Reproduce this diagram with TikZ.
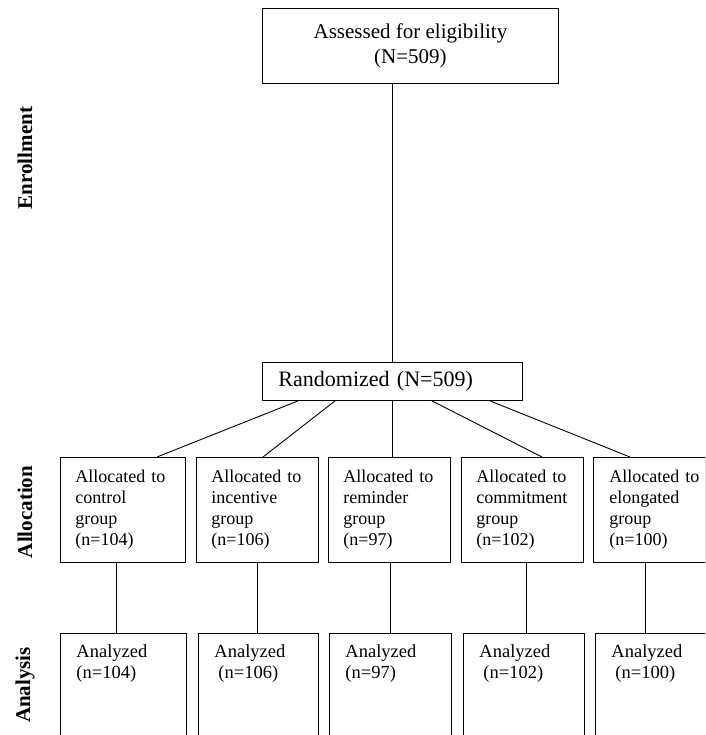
\documentclass[tikz,border=0pt]{standalone}
\usepackage{fontspec}
\setmainfont{Liberation Serif}
\usetikzlibrary{positioning}
\newcommand{\antext}[2]{\begin{minipage}[t][110pt][t]{#1}#2\end{minipage}}
\tikzset{
  topbox/.style={rectangle, draw, anchor=north west, inner sep=0pt, align=center,
                 line width=0.9pt, font=\fontsize{21}{25}\selectfont},
  randbox/.style={rectangle, draw, anchor=north west, minimum height=38pt, text width=228pt,
                  inner xsep=16pt, inner ysep=0pt, align=left, line width=0.9pt,
                  font=\fontsize{22}{25}\selectfont},
  allocbox/.style={rectangle, draw, anchor=north west, minimum height=105pt, text width=92pt,
                   inner xsep=15pt, inner ysep=0pt, align=left, line width=0.9pt,
                   font=\fontsize{18}{21}\selectfont},
  anbox/.style={rectangle, draw, anchor=north west, inner xsep=16pt, inner ysep=11pt,
                line width=0.9pt, font=\fontsize{18.5}{21}\selectfont},
  phase/.style={rotate=90, font=\fontsize{21}{24}\selectfont\bfseries},
  link/.style={draw, line width=0.9pt}
}
\begin{document}
\begin{tikzpicture}[x=1pt, y=-1pt]
  \useasboundingbox (0,0) rectangle (705,735);
  \clip (0,0) rectangle (705,735);

  % Phases
  \node[phase] (enrol) at (25,158) {Enrollment};
  \node[phase] (alloc) at (25,512) {Allocation};
  \node[phase] (anal) at (25,685) {Analysis};

  % Enrollment
  \node[topbox, minimum width=296pt, minimum height=75pt] (assess) at (262,8)
        {Assessed for eligibility\\(N=509)};
  \node[randbox] (rand) at (262,362) {Randomized (N=509)};

  % Allocation
  \node[allocbox, text width=95pt] (al1) at (60,457)
        {Allocated~to\\control\\group\\(n=104)};
  \node[allocbox] (al2) at (196,457) {Allocated~to\\incentive\\group\\(n=106)};
  \node[allocbox] (al3) at (328,457) {Allocated~to\\reminder\\group\\(n=97)};
  \node[allocbox] (al4) at (461,457) {Allocated~to\\commitment\\group\\(n=102)};
  \node[allocbox, text width=80pt, inner xsep=16pt] (al5) at (593,457)
        {Allocated~to\\elongated\\group\\(n=100)};

  % Analysis
  \node[anbox] (an1) at (60,633) {\antext{94pt}{Analyzed\\(n=104)}};
  \node[anbox] (an2) at (198,633) {\antext{88pt}{Analyzed\\\hspace*{4pt}(n=106)}};
  \node[anbox] (an3) at (329,633) {\antext{90pt}{Analyzed\\(n=97)}};
  \node[anbox] (an4) at (463,633) {\antext{89pt}{Analyzed\\\hspace*{4pt}(n=102)}};
  \node[anbox] (an5) at (595,633) {\antext{100pt}{Analyzed\\\hspace*{4pt}(n=100)}};

  % Links
  \draw[link] (rand.north |- assess.south) -- (rand.north);
  \draw[link] ([xshift=36pt]rand.south west) -- ([xshift=97pt]al1.north west);
  \draw[link] ([xshift=73pt]rand.south west) -- ([xshift=67pt]al2.north west);
  \draw[link] (rand.south) -- (rand.south |- al3.north);
  \draw[link] ([xshift=170pt]rand.south west) -- ([xshift=81pt]al4.north west);
  \draw[link] ([xshift=228pt]rand.south west) -- ([xshift=37pt]al5.north west);

  \draw[link] ([xshift=56pt]al1.south west) -- ([xshift=56pt]al1.south west |- an1.north);
  \draw[link] ([xshift=61pt]al2.south west) -- ([xshift=61pt]al2.south west |- an2.north);
  \draw[link] ([xshift=62pt]al3.south west) -- ([xshift=62pt]al3.south west |- an3.north);
  \draw[link] ([xshift=65pt]al4.south west) -- ([xshift=65pt]al4.south west |- an4.north);
  \draw[link] ([xshift=52pt]al5.south west) -- ([xshift=52pt]al5.south west |- an5.north);
\end{tikzpicture}
\end{document}
